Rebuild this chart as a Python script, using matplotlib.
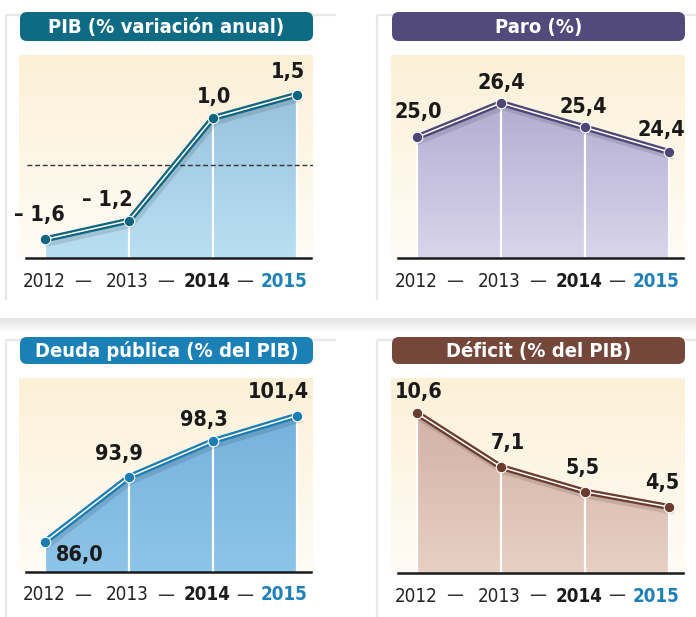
import numpy as np
import matplotlib
matplotlib.use('Agg')
import matplotlib.pyplot as plt
import matplotlib.patheffects as pe
from matplotlib.patches import FancyBboxPatch
from matplotlib.colors import LinearSegmentedColormap
from matplotlib import font_manager as fm

years = ['2012', '2013', '2014', '2015']
pib = [-1.6, -1.2, 1.0, 1.5]
paro = [25.0, 26.4, 25.4, 24.4]
deuda = [86.0, 93.9, 98.3, 101.4]
deficit = [10.6, 7.1, 5.5, 4.5]

titles = ['PIB (% variación anual)', 'Paro (%)',
          'Deuda pública (% del PIB)', 'Déficit (% del PIB)']

# pick a narrow font if there is one
names = {f.name for f in fm.fontManager.ttflist}
if 'Liberation Sans Narrow' in names:
    FONT = dict(family='Liberation Sans Narrow')
elif any(f.name == 'DejaVu Sans' and f.stretch == 'condensed' for f in fm.fontManager.ttflist):
    FONT = dict(family='DejaVu Sans', stretch='condensed')
else:
    FONT = dict(family='Roboto')

W, H = 696, 617
fig = plt.figure(figsize=(W / 100, H / 100), dpi=100)
fig.patch.set_facecolor('white')

# background layer in pixel coordinates (cards, pills)
bg = fig.add_axes([0, 0, 1, 1], zorder=-1)
bg.axis('off')


def fmt(v):
    s = f'{abs(v):.1f}'.replace('.', ',')
    return '– ' + s if v < 0 else s


panels = [
    dict(vals=pib, box=(19, 55, 313, 258), pill=(20, 12, 313, 41), ylim=(-2.0, 2.35),
         pill_c='#0f6a83', line_c='#0d6580', fill=('#b9dff3', '#98c2dc'),
         offs=[(-6, 24), (-22, 21), (1, 21), (-9, 23)], zero=True),
    dict(vals=paro, box=(391, 55, 685, 258), pill=(392, 12, 685, 41), ylim=(20.07, 28.36),
         pill_c='#524a7a', line_c='#4d4676', fill=('#d8d5eb', '#b3aed2'),
         offs=[(1, 25), (0, 20), (-2, 20), (-8, 22)], zero=False),
    dict(vals=deuda, box=(19, 378, 313, 572), pill=(20, 337, 313, 364), ylim=(82.3, 106.0),
         pill_c='#1a80b5', line_c='#1a7db3', fill=('#8dc5e8', '#76b2dc'),
         offs=[(35, -13), (-10, 23), (-9, 21), (-19, 24)], zero=False),
    dict(vals=deficit, box=(391, 378, 685, 573), pill=(392, 337, 685, 364), ylim=(0.2, 12.9),
         pill_c='#75473a', line_c='#6c3d2e', fill=('#e8d0c5', '#d2b2a4'),
         offs=[(2, 21), (7, 24), (-2, 24), (-7, 24)], zero=False),
]

year_dx = [-1, -2, -6, -13]
dash_dx = [-4, -5, -10]
year_style = [('normal', '#222222'), ('normal', '#222222'),
              ('bold', '#1b1b1b'), ('bold', '#1f80b8')]

# card edges
for cx, cy in [(6, 15), (377, 15), (6, 340), (377, 340)]:
    bg.plot([cx, cx + 330], [cy, cy], color='#e8e8e8', lw=1.6, solid_capstyle='butt')
    bg.plot([cx, cx], [cy, cy + 285], color='#e8e8e8', lw=1.6, solid_capstyle='butt')
band = np.linspace(1, 0, 50).reshape(-1, 1)
bg.imshow(band, extent=(0, W, 333, 318), cmap=LinearSegmentedColormap.from_list('g', ['white', '#e3e3e3']),
          aspect='auto', zorder=0)
bg.set_xlim(0, W)
bg.set_ylim(H, 0)

bgcmap = LinearSegmentedColormap.from_list('cream', ['#fffcf6', '#fcf0d7'])
x = np.arange(len(years))
xlim = (-0.31, 3.19)

for p, title in zip(panels, titles):
    x0, y0, x1, y1 = p['box']
    ax = fig.add_axes([x0 / W, 1 - y1 / H, (x1 - x0) / W, (y1 - y0) / H])
    ax.patch.set_visible(False)
    ax.axis('off')
    lo, hi = p['ylim']
    vals = p['vals']

    grad = np.linspace(0, 1, 100).reshape(-1, 1)
    ax.imshow(grad, extent=(xlim[0], xlim[1], lo, hi), origin='lower', aspect='auto',
              cmap=bgcmap, zorder=0)

    poly = ax.fill_between(x, vals, lo, color='none', lw=0, zorder=1)
    fcmap = LinearSegmentedColormap.from_list('f', list(p['fill']))
    im = ax.imshow(grad, extent=(x[0], x[-1], lo, max(vals)), origin='lower', aspect='auto',
                   cmap=fcmap, zorder=1)
    im.set_clip_path(poly.get_paths()[0], transform=ax.transData)

    ax.vlines(x, lo, vals, color='white', lw=1.6, zorder=2)

    if p['zero']:
        ax.axhline(0, xmin=(27 - x0) / (x1 - x0), xmax=1, color='#333333', lw=1,
                   ls=(0, (3.5, 2)), zorder=2)

    ax.axhline(lo, xmin=(26 - 19) / 294, xmax=(311 - 19) / 294, color='#1a1a1a', lw=1.8,
               clip_on=False, zorder=3)

    ax.plot(x, vals, color=p['line_c'], lw=4.4, solid_joinstyle='miter', zorder=4,
            path_effects=[pe.SimpleLineShadow(offset=(1.5, -3), shadow_color='k', alpha=0.11),
                          pe.Normal()])
    ax.plot(x, vals, color='white', lw=1.1, zorder=4)
    ax.plot(x, vals, 'o', ms=7.6, mfc=p['line_c'], mec='white', mew=0.8, zorder=5)

    for i, v in enumerate(vals):
        dx, dy = p['offs'][i]
        ax.annotate(fmt(v), (i, v), xytext=(dx, dy), textcoords='offset pixels',
                    ha='center', va='center', fontsize=15.5, fontweight='bold',
                    color='#1a1a1a', zorder=6, **FONT)

    tr = ax.get_xaxis_transform()
    for i, yr in enumerate(years):
        w, c = year_style[i]
        ax.annotate(yr, (i, 0), xycoords=tr, xytext=(year_dx[i], -23), textcoords='offset pixels',
                    ha='center', va='center', fontsize=13.5, fontweight=w, color=c,
                    annotation_clip=False, **FONT)
    for i in range(3):
        ax.annotate('—', (i + 0.5, 0), xycoords=tr, xytext=(dash_dx[i], -23),
                    textcoords='offset pixels', ha='center', va='center', fontsize=13.5,
                    color='#333333', annotation_clip=False, **FONT)

    ax.set_xlim(*xlim)
    ax.set_ylim(lo, hi)

    # title pill
    px0, py0, px1, py1 = p['pill']
    bg.add_patch(FancyBboxPatch((px0, py0), px1 - px0, py1 - py0,
                                boxstyle='round,pad=0,rounding_size=7',
                                fc=p['pill_c'], ec='none', zorder=2))
    bg.text((px0 + px1) / 2, (py0 + py1) / 2 + 0.5, title, ha='center', va='center',
            color='white', fontsize=14.5, fontweight='bold', zorder=3, **FONT)

fig.savefig('out.png', dpi=100, facecolor='white')
